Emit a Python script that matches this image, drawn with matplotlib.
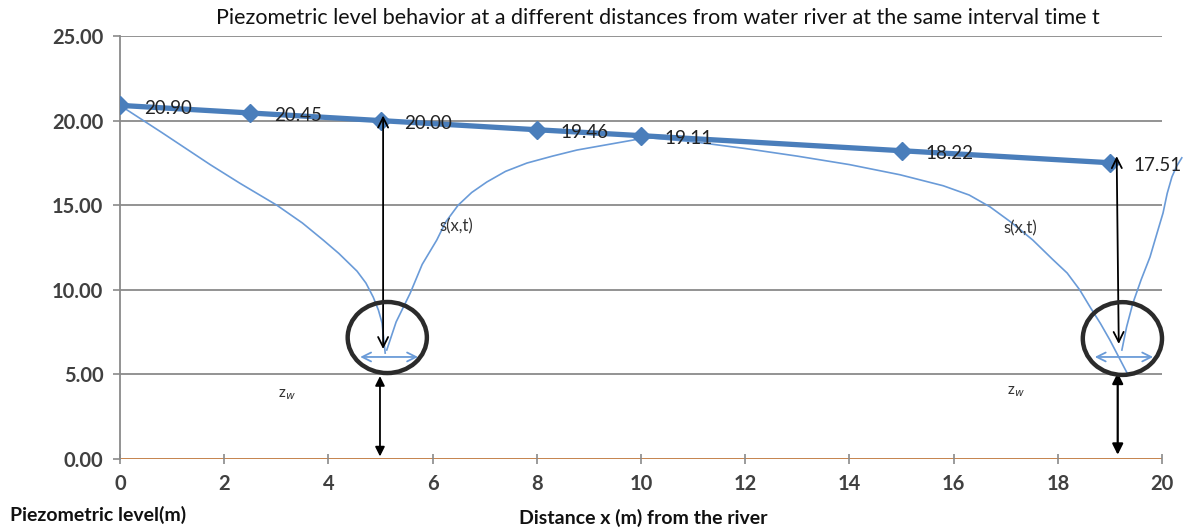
import matplotlib
matplotlib.use("Agg")
import matplotlib.pyplot as plt
from matplotlib.patches import Ellipse

plt.rcParams['font.family'] = ['Lato', 'DejaVu Sans']

# Piezometric level along the river distance
dist = [0, 2.5, 5, 8, 10, 15, 19]
level = [20.90, 20.45, 20.00, 19.46, 19.11, 18.22, 17.51]

# drawn drawdown curves
cone1_x = [0.05, 0.8, 1.73, 2.3, 3.01, 3.5, 3.90, 4.2, 4.55, 4.72, 4.86, 4.96, 5.03, 5.09]
cone1_y = [20.8, 19.3, 17.4, 16.3, 15.0, 13.95, 12.94, 12.15, 11.1, 10.4, 9.57, 8.8, 8.04, 6.26]
rise1_x = [5.12, 5.3, 5.57, 5.8, 6.08, 6.25, 6.49, 6.75, 7.04, 7.4, 7.81, 8.3, 8.77, 9.3, 9.85, 10.1]
rise1_y = [6.44, 8.1, 9.8, 11.5, 12.94, 14.0, 15.0, 15.75, 16.37, 17.0, 17.49, 17.9, 18.26, 18.55, 18.85, 19.0]
cone2_x = [10.1, 11.0, 12.0, 13.0, 14.0, 14.97, 15.8, 16.3, 16.7, 17.1, 17.52, 17.9, 18.18, 18.42,
           18.62, 18.82, 19.0, 19.33]
cone2_y = [19.0, 18.75, 18.35, 17.9, 17.4, 16.8, 16.15, 15.6, 14.9, 14.0, 12.94, 11.8, 10.99, 10.0,
           8.98, 8.0, 7.03, 5.08]
rise2_x = [19.23, 19.32, 19.44, 19.6, 19.77, 19.9, 20.02, 20.1, 20.19, 20.28, 20.38]
rise2_y = [6.44, 7.8, 9.2, 10.6, 11.94, 13.3, 14.54, 15.7, 16.67, 17.3, 17.8]

yticks = [0, 5, 10, 15, 20, 25]
xticks = [0, 2, 4, 6, 8, 10, 12, 14, 16, 18, 20]

fig = plt.figure(figsize=(11.92, 5.28), dpi=100)
ax = fig.add_axes([120/1192, 69/528, 1042/1192, 423/528])

grid_c = '#8a8a8a'
for yv in yticks[1:]:
    ax.axhline(yv, color=grid_c, lw=1.3, zorder=0)
ax.axhline(0, color='#c0783c', lw=2, zorder=1)
for s in ['top', 'right', 'bottom']:
    ax.spines[s].set_visible(False)
ax.spines['left'].set_color(grid_c)
ax.spines['left'].set_linewidth(1.3)

ax.set_xlim(0, 20)
ax.set_ylim(0, 25)
ax.set_yticks(yticks)
ax.set_yticklabels(['%.2f' % v for v in yticks])
ax.set_xticks(xticks)
ax.tick_params(axis='both', colors=grid_c, labelcolor='#404040', labelsize=14.5, length=5, width=1.2)
ax.tick_params(axis='y', pad=7)
ax.tick_params(axis='x', pad=7, direction='inout', length=7)
for lab in ax.get_xticklabels() + ax.get_yticklabels():
    lab.set_fontweight('bold')

thin_c = '#6a9bd8'
for cx, cy in [(cone1_x, cone1_y), (rise1_x, rise1_y), (cone2_x, cone2_y), (rise2_x, rise2_y)]:
    ax.plot(cx, cy, color=thin_c, lw=1.2, clip_on=False, zorder=2)

ax.plot(dist, level, color='#4a7ebb', lw=3.8, marker='D', markersize=9, zorder=4)
for xv, yv in zip(dist, level):
    ax.annotate('%.2f' % yv, (xv, yv), xytext=(17, -2), textcoords='offset points',
                fontsize=13.5, color='#222222', va='center', ha='left', zorder=5)

# vertical drawdown arrows
ax.annotate('', xy=(5.05, 20.3), xytext=(5.05, 6.5),
            arrowprops=dict(arrowstyle='<->', color='black', lw=1.3, mutation_scale=18,
                            shrinkA=0, shrinkB=0), zorder=5)
ax.annotate('', xy=(19.13, 17.9), xytext=(19.17, 6.8),
            arrowprops=dict(arrowstyle='<->', color='black', lw=1.3, mutation_scale=18,
                            shrinkA=0, shrinkB=0), zorder=5)
# well depth arrows
ax.annotate('', xy=(4.99, 4.9), xytext=(4.99, 0.15),
            arrowprops=dict(arrowstyle='<|-|>', color='black', lw=1.3, mutation_scale=14,
                            shrinkA=0, shrinkB=0), zorder=5)
ax.annotate('', xy=(19.15, 5.1), xytext=(19.15, 0.25),
            arrowprops=dict(arrowstyle='<|-|>', color='black', lw=1.6, mutation_scale=16,
                            shrinkA=0, shrinkB=0), zorder=5)
# horizontal radius arrows
ax.annotate('', xy=(4.61, 6.03), xytext=(5.72, 6.03),
            arrowprops=dict(arrowstyle='<->', color=thin_c, lw=1.3, mutation_scale=16,
                            shrinkA=0, shrinkB=0), zorder=5)
ax.annotate('', xy=(18.71, 6.03), xytext=(19.83, 6.03),
            arrowprops=dict(arrowstyle='<->', color=thin_c, lw=1.3, mutation_scale=16,
                            shrinkA=0, shrinkB=0), zorder=5)

# well circles
ax.add_patch(Ellipse((5.13, 7.18), 1.52, 4.2, fill=False, ec='#2b2b2b', lw=3.2, zorder=6))
ax.add_patch(Ellipse((19.24, 7.12), 1.52, 4.3, fill=False, ec='#2b2b2b', lw=3.2, zorder=6, clip_on=False))

ax.text(6.14, 13.77, 's(x,t)', fontsize=12, color='#333333', va='center', ha='left')
ax.text(16.95, 13.65, 's(x,t)', fontsize=12, color='#333333', va='center', ha='left')
ax.text(3.2, 3.8, r'z$_w$', fontsize=11, color='#333333', va='center', ha='center')
ax.text(17.2, 3.96, r'z$_w$', fontsize=11, color='#333333', va='center', ha='center')

fig.text(658/1192, 1 - 18/528,
         'Piezometric level behavior at a different distances from water river at the same interval time t',
         fontsize=15.5, ha='center', va='center', color='#111111')
fig.text(10/1192, 1 - 515/528, 'Piezometric level(m)', fontsize=14, fontweight='bold',
         ha='left', va='center', color='#111111')
fig.text(643/1192, 1 - 518/528, 'Distance x (m) from the river', fontsize=14, fontweight='bold',
         ha='center', va='center', color='#111111')

fig.savefig('out.png', dpi=100)
